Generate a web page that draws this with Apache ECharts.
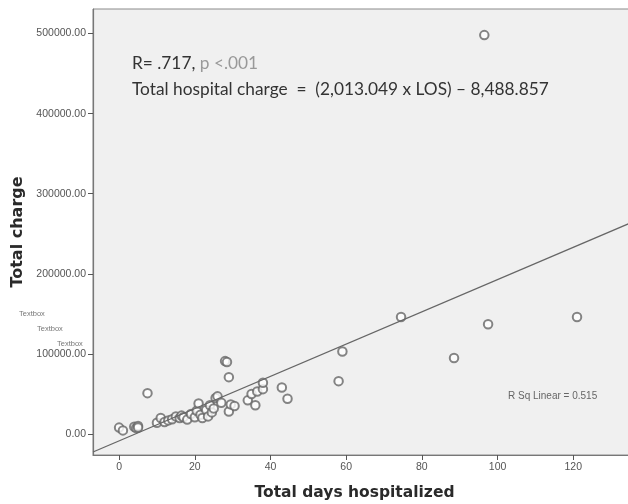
<!DOCTYPE html>
<html><head><meta charset="utf-8">
<script src="https://cdn.jsdelivr.net/npm/echarts@6/dist/echarts.min.js"></script>
<style>html,body{margin:0;padding:0;background:#fff}#c{width:628px;height:504px}</style>
</head><body><div id="c"></div>
<script>
// Length of stay (days) for each patient
const losDays = [0, 1, 4, 4.5, 5, 5, 7.5, 10, 11, 12, 13, 14, 15, 16, 16.5, 17, 18, 19, 20, 20.5, 21, 21.5, 22, 23, 23.5, 24, 24.5, 25, 25.5, 26, 27, 28, 28.5, 29, 29, 29.5, 30.5, 34, 35, 36, 36.5, 38, 38, 43, 44.5, 58, 59, 74.5, 88.5, 96.5, 97.5, 121];
// Total charge for each patient
const totalCharge = [8000, 4500, 9000, 7500, 10000, 8000, 51000, 14000, 20000, 15000, 17000, 18500, 22000, 20000, 23000, 21000, 18000, 25000, 21000, 29000, 38000, 24000, 20000, 30000, 22000, 36000, 27000, 32000, 45000, 47000, 39000, 91000, 90000, 71000, 28000, 37000, 35000, 42000, 50000, 36000, 53000, 56000, 64000, 58000, 44000, 66000, 103000, 146000, 95000, 498000, 137000, 146000];
const xTickValues = [0, 20, 40, 60, 80, 100, 120];
const yTickValues = [0, 100000, 200000, 300000, 400000, 500000];
const fitSlope = 2013.049;
const fitIntercept = -8488.857;
const xRange = [-6.9, 135];
const yRange = [-26200, 530600];

const points = losDays.map((d, i) => [d, totalCharge[i]]);
const fitLine = xRange.map(x => [x, fitSlope * x + fitIntercept]);

const chart = echarts.init(document.getElementById('c'));
chart.setOption({
  animation: false,
  backgroundColor: '#fff',
  grid: { left: 93, right: -2, top: 9, bottom: 49, show: true, containLabel: false, outerBoundsMode: 'none',
    backgroundColor: '#f0f0f0', borderColor: '#8a8a8a', borderWidth: 1 },
  xAxis: {
    type: 'value', min: xRange[0], max: xRange[1],
    axisLine: { show: true, onZero: false, lineStyle: { color: '#777', width: 1.2 } },
    axisTick: { show: true, customValues: xTickValues, length: 5, lineStyle: { color: '#555' } },
    axisLabel: { customValues: xTickValues, color: '#555', fontSize: 10.5, fontFamily: 'Liberation Sans', margin: 7 },
    splitLine: { show: false },
    name: 'Total days hospitalized', nameLocation: 'middle', nameGap: 30,
    nameTextStyle: { fontWeight: 'bold', fontSize: 15.5, color: '#2a2a2a', fontFamily: 'DejaVu Sans', padding: [0, 14, 0, 0] }
  },
  yAxis: {
    type: 'value', min: yRange[0], max: yRange[1],
    axisLine: { show: true, onZero: false, lineStyle: { color: '#777', width: 1.2 } },
    axisTick: { show: true, customValues: yTickValues, length: 5, lineStyle: { color: '#555' } },
    axisLabel: { customValues: yTickValues, color: '#555', fontSize: 10.5, fontFamily: 'Liberation Sans', margin: 7,
      formatter: v => v.toFixed(2) },
    splitLine: { show: false },
    name: 'Total charge', nameLocation: 'middle', nameGap: 67,
    nameTextStyle: { fontWeight: 'bold', fontSize: 16, color: '#2a2a2a', fontFamily: 'DejaVu Sans', padding: [0, 0, 0, 0] }
  },
  series: [
    { type: 'line', data: fitLine, symbol: 'none', silent: true,
      lineStyle: { color: '#666', width: 1.2 } },
    { type: 'scatter', data: points, symbol: 'emptyCircle', symbolSize: 8.5,
      itemStyle: { color: '#666', borderWidth: 1 } }
  ],
  graphic: [
    { type: 'text', left: 132, top: 55, style: {
        text: '{a|R= .717, }{b|p <.001}',
        rich: { a: { fontSize: 17.3, fontFamily: 'Lato', fill: '#333' }, b: { fontSize: 17.3, fontFamily: 'Lato', fill: '#999' } } } },
    { type: 'text', left: 132, top: 81, style: { text: 'Total hospital charge  =  (2,013.049 x LOS) \u2013 8,488.857',
        fontSize: 17.3, fontFamily: 'Lato', fill: '#333' } },
    { type: 'text', left: 508, top: 391, style: { text: 'R Sq Linear = 0.515', fontSize: 10, fontFamily: 'Liberation Sans', fill: '#666' } },
    { type: 'text', left: 19, top: 310, style: { text: 'Textbox', fontSize: 7.5, fontFamily: 'Liberation Sans', fill: '#777' } },
    { type: 'text', left: 37, top: 325, style: { text: 'Textbox', fontSize: 7.5, fontFamily: 'Liberation Sans', fill: '#777' } },
    { type: 'text', left: 57, top: 340, style: { text: 'Textbox', fontSize: 7.5, fontFamily: 'Liberation Sans', fill: '#777' } }
  ]
});
</script>
</body></html>
